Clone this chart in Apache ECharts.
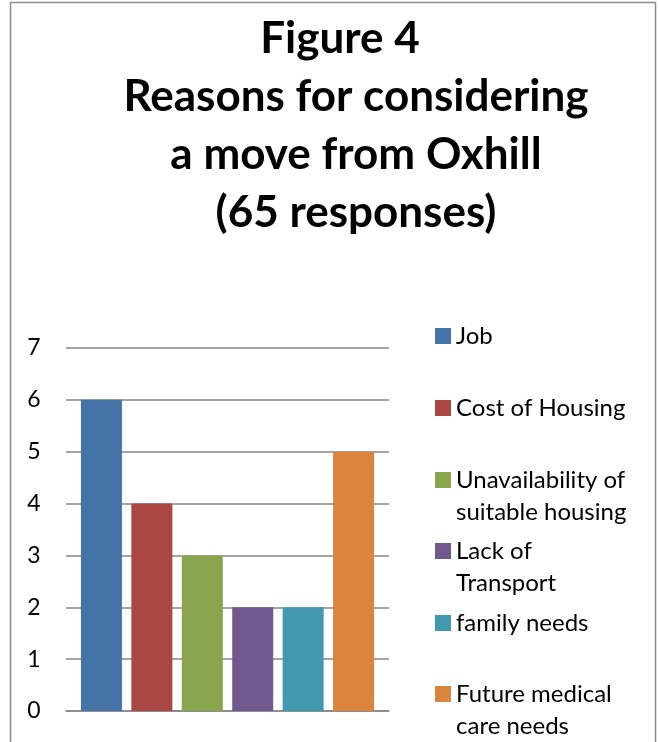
<!DOCTYPE html>
<html>
<head>
<meta charset="utf-8">
<title>Figure 4</title>
<script src="https://cdn.jsdelivr.net/npm/echarts@6/dist/echarts.min.js"></script>
<style>
  html, body { margin: 0; padding: 0; background: #fff; }
  #chart { width: 659px; height: 742px; }
</style>
</head>
<body>
<div id="chart"></div>
<script>
// data
const reasons = ['Job', 'Cost of Housing', 'Unavailability of suitable housing', 'Lack of Transport', 'family needs', 'Future medical care needs'];
const legendLines = [['Job'], ['Cost of Housing'], ['Unavailability of', 'suitable housing'], ['Lack of', 'Transport'], ['family needs'], ['Future medical', 'care needs']];
const counts = [6, 4, 3, 2, 2, 5];
const yTicks = [0, 1, 2, 3, 4, 5, 6, 7];
const colors = ['#4572A7', '#AA4643', '#89A54E', '#71588F', '#4198AF', '#DB843D'];

const FONT = 'Lato';
const legendIconY = [335, 407, 479, 550, 622, 693];
const LINE = 32;

const chart = echarts.init(document.getElementById('chart'));

const series = reasons.map((name, i) => ({
  name: name,
  type: 'bar',
  data: [counts[i]],
  barWidth: 41,
  barGap: '23%',
  itemStyle: { color: colors[i] },
  emphasis: { disabled: true }
}));

// one legend per item so the spacing matches the original;
// wrapped labels keep the first line level with the swatch
const legends = reasons.map((name, i) => {
  const twoLines = legendLines[i].length > 1;
  return {
    data: [name],
    orient: 'vertical',
    left: 435,
    top: legendIconY[i] - 11,
    padding: 0,
    itemWidth: 16,
    itemHeight: 16,
    itemGap: 0,
    icon: 'rect',
    selectedMode: false,
    formatter: () => legendLines[i].map(s => '{l|' + s + '}').join('\n'),
    textStyle: {
      padding: twoLines ? [LINE, 0, 0, 0] : 0,
      rich: {
        l: { fontFamily: FONT, fontSize: 24, color: '#000', lineHeight: LINE }
      }
    }
  };
});

const option = {
  animation: false,
  color: colors,
  title: {
    text: 'Figure 4   \nReasons for considering\na move from Oxhill\n(65 responses)',
    left: 351,
    top: 5,
    padding: 5,
    textAlign: 'center',
    textStyle: {
      fontFamily: FONT,
      fontWeight: 'bold',
      fontSize: 44,
      lineHeight: 58,
      color: '#000'
    }
  },
  graphic: [{
    type: 'rect',
    shape: { x: 10.5, y: 2.5, width: 645, height: 800 },
    style: { fill: null, stroke: '#8c8c8c', lineWidth: 1.5 },
    silent: true
  }],
  legend: legends,
  grid: { left: 66, right: 270, top: 348, bottom: 31, containLabel: false },
  xAxis: {
    type: 'category',
    data: [''],
    axisLine: { show: true, lineStyle: { color: '#868686', width: 1.5 } },
    axisTick: { show: false },
    axisLabel: { show: false }
  },
  yAxis: {
    type: 'value',
    min: yTicks[0],
    max: yTicks[yTicks.length - 1],
    interval: 1,
    axisLine: { show: false },
    axisTick: { show: false },
    axisLabel: {
      fontFamily: FONT,
      fontSize: 23,
      color: '#000',
      margin: 32,
      align: 'center'
    },
    splitLine: { lineStyle: { color: '#868686', width: 1.5 } }
  },
  series: series
};

chart.setOption(option);
</script>
</body>
</html>
